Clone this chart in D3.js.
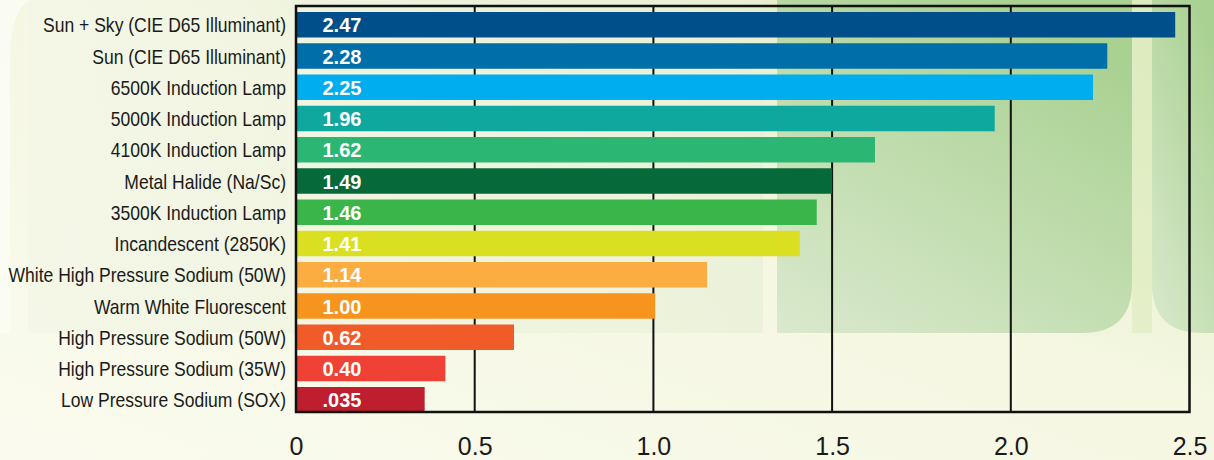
<!DOCTYPE html>
<html>
<head>
<meta charset="utf-8">
<script src="https://cdn.jsdelivr.net/npm/d3@7"></script>
<style>
  html, body { margin: 0; padding: 0; background: #f9faec; }
  svg { display: block; font-family: "Liberation Sans", Arial, sans-serif; }
</style>
</head>
<body>
<svg id="chart" width="1214" height="460"></svg>
<script>
// light sources, top to bottom
const sources = [
  "Sun + Sky (CIE D65 Illuminant)",
  "Sun (CIE D65 Illuminant)",
  "6500K Induction Lamp",
  "5000K Induction Lamp",
  "4100K Induction Lamp",
  "Metal Halide (Na/Sc)",
  "3500K Induction Lamp",
  "Incandescent (2850K)",
  "White High Pressure Sodium (50W)",
  "Warm White Fluorescent",
  "High Pressure Sodium (50W)",
  "High Pressure Sodium (35W)",
  "Low Pressure Sodium (SOX)"
];
// bar lengths as drawn
const values = [2.46, 2.27, 2.23, 1.955, 1.62, 1.50, 1.457, 1.41, 1.15, 1.005, 0.61, 0.418, 0.36];
// printed value labels
const valueLabels = ["2.47", "2.28", "2.25", "1.96", "1.62", "1.49", "1.46", "1.41", "1.14", "1.00", "0.62", "0.40", ".035"];
const barColors = ["#004f8a", "#006ea8", "#00aeef", "#0fa89e", "#2cb673", "#05693a", "#3ab54a",
                   "#dae021", "#fbad41", "#f7941d", "#f15a29", "#ef4136", "#be1e2d"];
const tickValues = [0, 0.5, 1.0, 1.5, 2.0, 2.5];
const tickLabels = ["0", "0.5", "1.0", "1.5", "2.0", "2.5"];

const svg = d3.select("#chart");
const W = 1214, H = 460;
const plot = {left: 296, right: 1189.5, top: 6, bottom: 412};

// background
const defs = svg.append("defs");
const bg = defs.append("linearGradient").attr("id", "bg")
    .attr("x1", "0").attr("y1", "1").attr("x2", "1").attr("y2", "0");
bg.append("stop").attr("offset", "0").attr("stop-color", "#fafbee");
bg.append("stop").attr("offset", "0.55").attr("stop-color", "#f5f7e2");
bg.append("stop").attr("offset", "1").attr("stop-color", "#dbe9bd");
const shape = defs.append("linearGradient").attr("id", "shape")
    .attr("x1", "0").attr("y1", "1").attr("x2", "0.6").attr("y2", "0");
shape.append("stop").attr("offset", "0").attr("stop-color", "#dae9cd");
shape.append("stop").attr("offset", "1").attr("stop-color", "#a9d192");
const soft = defs.append("linearGradient").attr("id", "soft")
    .attr("x1", "0").attr("y1", "0").attr("x2", "1").attr("y2", "0");
soft.append("stop").attr("offset", "0").attr("stop-color", "#f3f6e6");
soft.append("stop").attr("offset", "1").attr("stop-color", "#e8f0d6");

svg.append("rect").attr("width", W).attr("height", H).attr("fill", "url(#bg)");
svg.append("rect").attr("x", 28).attr("y", 0).attr("width", 735).attr("height", 333).attr("fill", "url(#soft)").attr("opacity", 0.7);
svg.append("path").attr("fill", "#fbfcf4")
    .attr("d", "M-40,333 L-40,0 L30,0 Q10,10 10,60 L10,333 Z").attr("opacity", 0.9);
svg.append("path").attr("fill", "url(#shape)")
    .attr("d", "M777,-10 L1132,-10 L1132,283 Q1132,333 1082,333 L777,333 Z");
svg.append("path").attr("fill", "url(#shape)")
    .attr("d", "M1152,-10 L1224,-10 L1224,333 L1202,333 Q1152,333 1152,283 Z");
svg.append("rect").attr("x", 1132).attr("y", 0).attr("width", 20).attr("height", 333).attr("fill", "#dcebbd").attr("opacity", 0.6);

const x = d3.scaleLinear().domain([0, 2.5]).range([plot.left, plot.right]);
const y = d3.scaleBand().domain(sources).range([12, 412.5]).paddingInner(0.184).paddingOuter(0);

// vertical grid
svg.append("g").selectAll("line")
  .data(tickValues.slice(1, -1))
  .join("line")
    .attr("x1", d => x(d)).attr("x2", d => x(d))
    .attr("y1", plot.top).attr("y2", plot.bottom)
    .attr("stroke", "#111").attr("stroke-width", 2);

// bars
svg.append("g").selectAll("rect")
  .data(values)
  .join("rect")
    .attr("x", x(0))
    .attr("y", (d, i) => y(sources[i]))
    .attr("width", d => x(d) - x(0))
    .attr("height", y.bandwidth())
    .attr("fill", (d, i) => barColors[i]);

// frame
svg.append("rect")
    .attr("x", plot.left).attr("y", plot.top)
    .attr("width", plot.right - plot.left).attr("height", plot.bottom - plot.top)
    .attr("fill", "none").attr("stroke", "#111").attr("stroke-width", 2.5);

// value labels
svg.append("g").selectAll("text")
  .data(valueLabels)
  .join("text")
    .attr("x", 322.5)
    .attr("y", (d, i) => y(sources[i]) + y.bandwidth() / 2 + 7.5)
    .attr("fill", "#fff")
    .attr("font-weight", "bold")
    .attr("font-size", 20)
    .text(d => d);

// category labels (condensed)
svg.append("g").selectAll("text")
  .data(sources)
  .join("text")
    .attr("transform", d => `translate(286,${y(d) + y.bandwidth() / 2 + 7.5}) scale(0.835,1)`)
    .attr("text-anchor", "end")
    .attr("fill", "#1a1a1a")
    .attr("font-size", 21)
    .text(d => d);

// x axis labels
const xAxis = d3.axisBottom(x).tickValues(tickValues)
    .tickFormat((d, i) => tickLabels[i]).tickSize(0).tickPadding(0);
const ax = svg.append("g").attr("transform", "translate(0,437)").call(xAxis);
ax.select(".domain").remove();
ax.selectAll("text")
    .attr("dy", 0).attr("y", 18)
    .attr("fill", "#1a1a1a")
    .attr("font-size", 25)
    .attr("font-family", "Liberation Sans, Arial, sans-serif");
</script>
</body>
</html>
